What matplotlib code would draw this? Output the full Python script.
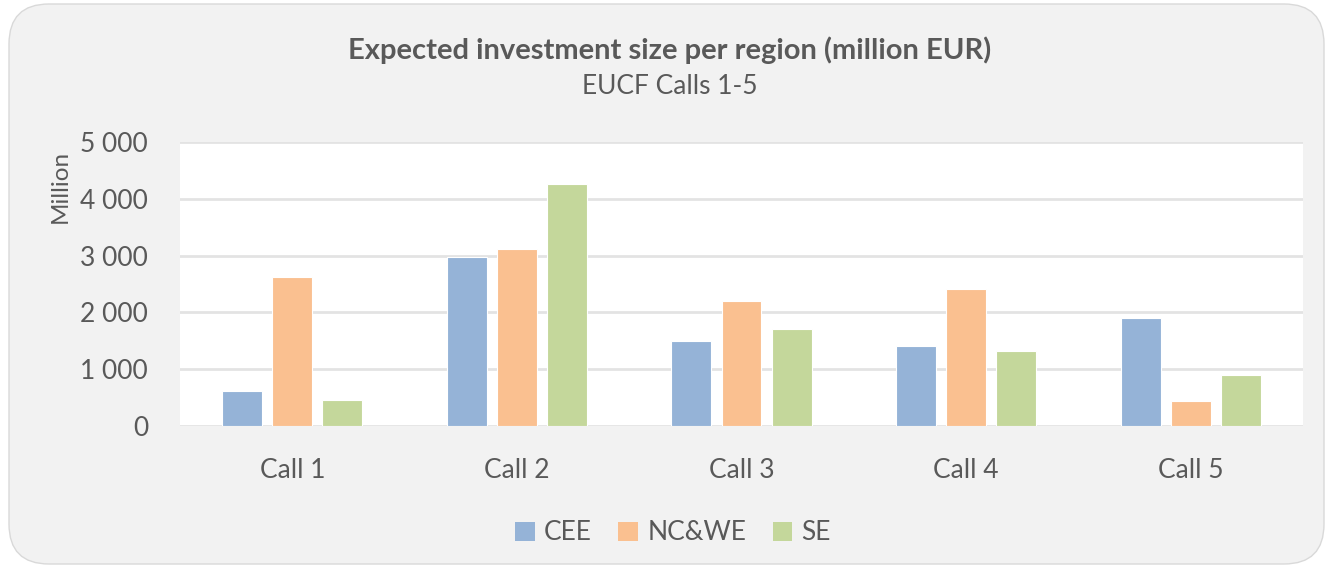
import matplotlib
matplotlib.use("Agg")
import matplotlib.pyplot as plt
import numpy as np
from matplotlib.patches import FancyBboxPatch, Patch
from matplotlib.ticker import FuncFormatter

categories = ["Call 1", "Call 2", "Call 3", "Call 4", "Call 5"]
series_names = ["CEE", "NC&WE", "SE"]
cee = [625, 2980, 1495, 1410, 1910]
ncwe = [2620, 3120, 2200, 2415, 445]
se = [455, 4260, 1715, 1315, 895]
colors = ["#95b3d7", "#fac090", "#c4d79b"]

yticks = [0, 1000, 2000, 3000, 4000, 5000]

plt.rcParams["font.family"] = ["Lato", "DejaVu Sans"]
text_color = "#595959"

W, H = 1333, 574
fig = plt.figure(figsize=(W / 100, H / 100), dpi=100)
fig.patch.set_facecolor("white")

# rounded chart-area background
bg = FancyBboxPatch((9 / W, 10 / H), (W - 18) / W, (H - 14) / H,
                    boxstyle="round,pad=0,rounding_size=0.03",
                    transform=fig.transFigure, facecolor="#f2f2f2",
                    edgecolor="#d9d9d9", linewidth=1.0, mutation_aspect=W / H,
                    zorder=-10)
fig.patches.append(bg)

ax = fig.add_axes([180 / W, 1 - 426 / H, (1303 - 180) / W, (426 - 142) / H])
ax.set_zorder(1)
ax.set_facecolor("white")

x = np.arange(len(categories))
bw = 0.178
step = 0.223
for i, (vals, name) in enumerate(zip([cee, ncwe, se], series_names)):
    ax.bar(x + (i - 1) * step, vals, width=bw, color=colors[i],
           edgecolor="white", linewidth=0.8, label=name, zorder=3)

ax.set_xlim(-0.5, len(categories) - 0.5)
ax.set_ylim(0, 5000)
ax.set_yticks(yticks)
ax.yaxis.set_major_formatter(FuncFormatter(lambda v, p: f"{int(v):,}".replace(",", " ")))
ax.grid(axis="y", color="#e3e3e3", linewidth=2.0, zorder=1)
ax.set_axisbelow(True)
for s in ax.spines.values():
    s.set_visible(False)
ax.tick_params(axis="both", length=0, labelsize=19, labelcolor=text_color)
ax.tick_params(axis="y", pad=23)
ax.tick_params(axis="x", pad=23)
ax.set_xticks(x)
ax.set_xticklabels(categories)

fig.text(60 / W, 1 - 186 / H, "Million", rotation=90, ha="center", va="center",
         fontsize=17.5, color=text_color)

fig.text(670 / W, 1 - 50 / H, "Expected investment size per region (million EUR)",
         ha="center", va="center", fontsize=21, fontweight="bold", color=text_color)
fig.text(670 / W, 1 - 86 / H, "EUCF Calls 1-5", ha="center", va="center",
         fontsize=19, color=text_color)

handles = [Patch(facecolor=c, edgecolor="none") for c in colors]
leg = fig.legend(handles, series_names, loc="center", bbox_to_anchor=(673 / W, 1 - 533 / H),
                 ncol=3, frameon=False, fontsize=19, handlelength=0.75, handleheight=0.75,
                 handletextpad=0.35, columnspacing=1.0)
for t in leg.get_texts():
    t.set_color(text_color)

fig.savefig("out.png", dpi=100, facecolor=fig.get_facecolor())
